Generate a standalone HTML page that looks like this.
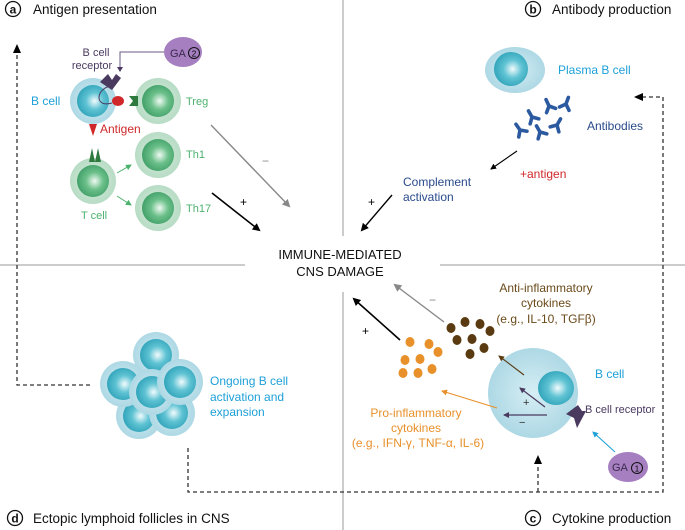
<!DOCTYPE html>
<html><head><meta charset="utf-8"><style>
body{margin:0;background:#fff}
svg{display:block;font-family:"Liberation Sans",sans-serif}
</style></head><body>
<svg width="685" height="530" viewBox="0 0 685 530" xmlns="http://www.w3.org/2000/svg">
<defs>
<radialGradient id="bn" cx="0.55" cy="0.5" r="0.6"><stop offset="0" stop-color="#f2fbfd"/><stop offset="0.45" stop-color="#5fc3d3"/><stop offset="1" stop-color="#2a9fb6"/></radialGradient>
<radialGradient id="bo" cx="0.5" cy="0.5" r="0.55"><stop offset="0" stop-color="#d6eef4"/><stop offset="1" stop-color="#a9d6e3"/></radialGradient>
<radialGradient id="gn" cx="0.55" cy="0.5" r="0.6"><stop offset="0" stop-color="#f0faf3"/><stop offset="0.45" stop-color="#6cc08a"/><stop offset="1" stop-color="#3a9a62"/></radialGradient>
<radialGradient id="go" cx="0.5" cy="0.5" r="0.55"><stop offset="0" stop-color="#d9eee0"/><stop offset="1" stop-color="#b4dac2"/></radialGradient>
<marker id="ak" markerWidth="8" markerHeight="8" refX="6" refY="4" orient="auto" markerUnits="userSpaceOnUse"><path d="M0,0 L8,4 L0,8z" fill="#000"/></marker>
<marker id="ag" markerWidth="8" markerHeight="8" refX="6" refY="4" orient="auto" markerUnits="userSpaceOnUse"><path d="M0,0 L8,4 L0,8z" fill="#888"/></marker>
<marker id="as" markerWidth="6" markerHeight="6" refX="5" refY="3" orient="auto" markerUnits="userSpaceOnUse"><path d="M0,0 L6,3 L0,6z" fill="#000"/></marker>
<marker id="agr" markerWidth="6" markerHeight="6" refX="5" refY="3" orient="auto" markerUnits="userSpaceOnUse"><path d="M0,0 L6,3 L0,6z" fill="#4cb26e"/></marker>
<marker id="abr" markerWidth="6" markerHeight="6" refX="5" refY="3" orient="auto" markerUnits="userSpaceOnUse"><path d="M0,0 L6,3 L0,6z" fill="#5a3a10"/></marker>
<marker id="aor" markerWidth="6" markerHeight="6" refX="5" refY="3" orient="auto" markerUnits="userSpaceOnUse"><path d="M0,0 L6,3 L0,6z" fill="#e8902a"/></marker>
<marker id="apu" markerWidth="6" markerHeight="6" refX="5" refY="3" orient="auto" markerUnits="userSpaceOnUse"><path d="M0,0 L6,3 L0,6z" fill="#4a3a60"/></marker>
<marker id="abl" markerWidth="6" markerHeight="6" refX="5" refY="3" orient="auto" markerUnits="userSpaceOnUse"><path d="M0,0 L6,3 L0,6z" fill="#1ea0d8"/></marker>
<g id="ab" fill="none" stroke="#2c5aa0" stroke-width="3.6" stroke-linecap="round"><path d="M0,0 L0,-7 M0,0 L-5,5 M0,0 L5,5"/></g>
<g id="bc"><circle r="23" fill="url(#bo)"/><circle r="16" fill="url(#bn)"/></g>
<g id="gc"><circle r="23" fill="url(#go)"/><circle r="16" fill="url(#gn)"/></g>
</defs>

<g stroke="#999" stroke-width="1">
<line x1="343" y1="0" x2="343" y2="236"/>
<line x1="343" y1="292" x2="343" y2="530"/>
<line x1="0" y1="265" x2="245" y2="265"/>
<line x1="440" y1="265" x2="685" y2="265"/>
</g>

<g fill="none" stroke="#333" stroke-width="1.3" stroke-dasharray="4,3">
<path d="M90,385 L17,385 L17,52"/>
<path d="M188,448 L188,492 L663,492 L663,97 L642,97"/>
<path d="M538,492 L538,462"/>
</g>
<path d="M17,44 L13,53 L21,53z" fill="#000"/>
<path d="M634,97 L643,93 L643,101z" fill="#000"/>
<path d="M538,455 L534,464 L542,464z" fill="#000"/>

<g font-size="13.5" fill="#111">
<circle cx="13" cy="9" r="7.5" fill="none" stroke="#111" stroke-width="1.3"/><text x="13" y="13.5" text-anchor="middle" font-weight="bold" font-size="12">a</text>
<text x="33" y="14">Antigen presentation</text>
<circle cx="533" cy="9" r="7.5" fill="none" stroke="#111" stroke-width="1.3"/><text x="533" y="13.5" text-anchor="middle" font-weight="bold" font-size="12">b</text>
<text x="552" y="14">Antibody production</text>
<circle cx="533" cy="518" r="7.5" fill="none" stroke="#111" stroke-width="1.3"/><text x="533" y="522.5" text-anchor="middle" font-weight="bold" font-size="12">c</text>
<text x="552" y="523">Cytokine production</text>
<circle cx="15" cy="518" r="7.5" fill="none" stroke="#111" stroke-width="1.3"/><text x="15" y="522.5" text-anchor="middle" font-weight="bold" font-size="12">d</text>
<text x="33" y="523">Ectopic lymphoid follicles in CNS</text>
<text x="340" y="259" text-anchor="middle" font-size="13">IMMUNE-MEDIATED</text>
<text x="340" y="276" text-anchor="middle" font-size="13">CNS DAMAGE</text>
</g>

<!-- panel a -->
<ellipse cx="183" cy="52" rx="19" ry="15" fill="#a57fc0"/>
<text x="170" y="57" font-size="11" fill="#3c2a4e">GA</text>
<circle cx="194" cy="53" r="5.5" fill="none" stroke="#111"/><text x="194" y="56.5" font-size="8" text-anchor="middle">2</text>
<path d="M164,52 L120,52 L120,70" fill="none" stroke="#6a5a80" stroke-width="1"/>
<path d="M120,72 L117,67 L123,67z" fill="#4a3a60"/>
<text x="96" y="56" font-size="11" fill="#4a3a60" text-anchor="middle">B cell</text>
<text x="92" y="69" font-size="11" fill="#4a3a60" text-anchor="middle">receptor</text>
<use href="#bc" x="93" y="101"/>
<use href="#gc" x="158" y="101"/>
<use href="#gc" x="158" y="155"/>
<use href="#gc" x="158" y="208"/>
<use href="#gc" x="93" y="181"/>
<path d="M100,82 L108,74 L112,80 L116,74 L121,78 L112,90z" fill="#4a3a60"/>
<path d="M110,86 C95,90 95,108 112,103" fill="none" stroke="#4a3a60" stroke-width="1"/>
<ellipse cx="118" cy="101" rx="6" ry="5" fill="#d0282a"/>
<path d="M129,96 L138,96 L138,106 L129,106 L133,101z" fill="#2e7a3e"/>
<path d="M89,124 L97,124 L93,136z" fill="#d0282a"/>
<text x="100" y="133" font-size="12" fill="#d0282a">Antigen</text>
<path d="M89,162 L92,148 L95,162 L98,148 L101,162z" fill="#2e7a3e"/>
<text x="31" y="105" font-size="12" fill="#1ea0d8">B cell</text>
<text x="186" y="105" font-size="11" fill="#4cb26e">Treg</text>
<text x="186" y="158" font-size="11" fill="#4cb26e">Th1</text>
<text x="186" y="212" font-size="11" fill="#4cb26e">Th17</text>
<text x="81" y="219" font-size="11" fill="#4cb26e">T cell</text>
<line x1="117" y1="173" x2="131" y2="165" stroke="#4cb26e" marker-end="url(#agr)"/>
<line x1="117" y1="196" x2="131" y2="205" stroke="#4cb26e" marker-end="url(#agr)"/>
<line x1="211" y1="125" x2="289" y2="206" stroke="#888" stroke-width="1.4" marker-end="url(#ag)"/>
<text x="262" y="165" font-size="12" fill="#888">−</text>
<line x1="212" y1="193" x2="259" y2="230" stroke="#000" stroke-width="1.6" marker-end="url(#ak)"/>
<text x="240" y="206" font-size="12">+</text>

<!-- panel b -->
<ellipse cx="515" cy="70" rx="30" ry="23" fill="url(#bo)"/>
<circle cx="511" cy="69" r="17" fill="url(#bn)"/>
<text x="558" y="74" font-size="12" fill="#1ea0d8">Plasma B cell</text>
<use href="#ab" transform="translate(532,117) rotate(-30)"/>
<use href="#ab" transform="translate(549,106) rotate(-25)"/>
<use href="#ab" transform="translate(566,104) rotate(20)"/>
<use href="#ab" transform="translate(520,130) rotate(-35)"/>
<use href="#ab" transform="translate(540,132) rotate(-30)"/>
<use href="#ab" transform="translate(557,125) rotate(30)"/>
<text x="587" y="130" font-size="12" fill="#2a4a8c">Antibodies</text>
<line x1="517" y1="151" x2="491" y2="169" stroke="#000" stroke-width="1.1" marker-end="url(#as)"/>
<text x="520" y="178" font-size="12" fill="#d0282a">+antigen</text>
<text x="403" y="186" font-size="12" fill="#2a4a8c">Complement</text>
<text x="403" y="201" font-size="12" fill="#2a4a8c">activation</text>
<line x1="392" y1="195" x2="362" y2="230" stroke="#000" stroke-width="1.4" marker-end="url(#ak)"/>
<text x="368" y="206" font-size="12">+</text>

<!-- panel c -->
<circle cx="533" cy="393" r="45" fill="url(#bo)"/>
<ellipse cx="556" cy="388" rx="18" ry="17" fill="url(#bn)"/>
<path d="M566,414 L578,405 L582,411 L586,411 L577,428 L574,418z" fill="#4a3a60"/>
<text x="595" y="378" font-size="12" fill="#1ea0d8">B cell</text>
<text x="585" y="413" font-size="11" fill="#4a3a60">B cell receptor</text>
<ellipse cx="628" cy="467" rx="20" ry="15" fill="#a57fc0"/>
<text x="612" y="471" font-size="11" fill="#3c2a4e">GA</text>
<circle cx="637" cy="468" r="5.5" fill="none" stroke="#111"/><text x="637" y="471.5" font-size="8" text-anchor="middle">1</text>
<line x1="615" y1="452" x2="593" y2="432" stroke="#1ea0d8" stroke-width="1.1" marker-end="url(#abl)"/>
<line x1="545" y1="407" x2="520" y2="388" stroke="#4a3a60" stroke-width="1.2" marker-end="url(#apu)"/>
<text x="523" y="406" font-size="11" fill="#333">+</text>
<line x1="547" y1="415" x2="504" y2="415" stroke="#4a3a60" stroke-width="1.2" marker-end="url(#apu)"/>
<text x="519" y="426" font-size="11" fill="#333">−</text>
<line x1="524" y1="375" x2="499" y2="356" stroke="#5a3a10" stroke-width="1.1" marker-end="url(#abr)"/>
<line x1="497" y1="408" x2="442" y2="391" stroke="#e8902a" stroke-width="1.1" marker-end="url(#aor)"/>
<g fill="#5a3a10">
<ellipse cx="451" cy="328" rx="4.5" ry="5"/><ellipse cx="465" cy="322" rx="4.5" ry="5"/><ellipse cx="480" cy="324" rx="4.5" ry="5"/><ellipse cx="490" cy="331" rx="4.5" ry="5"/>
<ellipse cx="457" cy="340" rx="4.5" ry="5"/><ellipse cx="472" cy="339" rx="4.5" ry="5"/><ellipse cx="484" cy="348" rx="4.5" ry="5"/><ellipse cx="470" cy="354" rx="4.5" ry="5"/>
</g>
<g fill="#e8902a">
<ellipse cx="410" cy="342" rx="4.5" ry="5"/><ellipse cx="429" cy="344" rx="4.5" ry="5"/><ellipse cx="438" cy="352" rx="4.5" ry="5"/>
<ellipse cx="405" cy="360" rx="4.5" ry="5"/><ellipse cx="420" cy="359" rx="4.5" ry="5"/><ellipse cx="432" cy="369" rx="4.5" ry="5"/>
<ellipse cx="403" cy="373" rx="4.5" ry="5"/><ellipse cx="418" cy="373" rx="4.5" ry="5"/>
</g>
<line x1="444" y1="322" x2="395" y2="285" stroke="#888" stroke-width="1.4" marker-end="url(#ag)"/>
<text x="429" y="304" font-size="12" fill="#888">−</text>
<line x1="400" y1="340" x2="354" y2="299" stroke="#000" stroke-width="1.6" marker-end="url(#ak)"/>
<text x="362" y="335" font-size="12">+</text>
<g font-size="12" fill="#6b4a1a" text-anchor="middle">
<text x="546" y="292">Anti-inflammatory</text>
<text x="546" y="307">cytokines</text>
<text x="546" y="323">(e.g., IL-10, TGFβ)</text>
</g>
<g font-size="12" fill="#e8902a" text-anchor="middle">
<text x="416" y="417">Pro-inflammatory</text>
<text x="416" y="432">cytokines</text>
<text x="418" y="447">(e.g., IFN-γ, TNF-α, IL-6)</text>
</g>

<!-- panel d -->
<use href="#bc" x="156" y="355"/>
<use href="#bc" x="139" y="416"/>
<use href="#bc" x="172" y="413"/>
<use href="#bc" x="123" y="384"/>
<use href="#bc" x="152" y="392"/>
<use href="#bc" x="180" y="382"/>
<g font-size="12" fill="#1ea0d8">
<text x="210" y="385">Ongoing B cell</text>
<text x="210" y="401">activation and</text>
<text x="210" y="416">expansion</text>
</g>
</svg>
</body></html>
